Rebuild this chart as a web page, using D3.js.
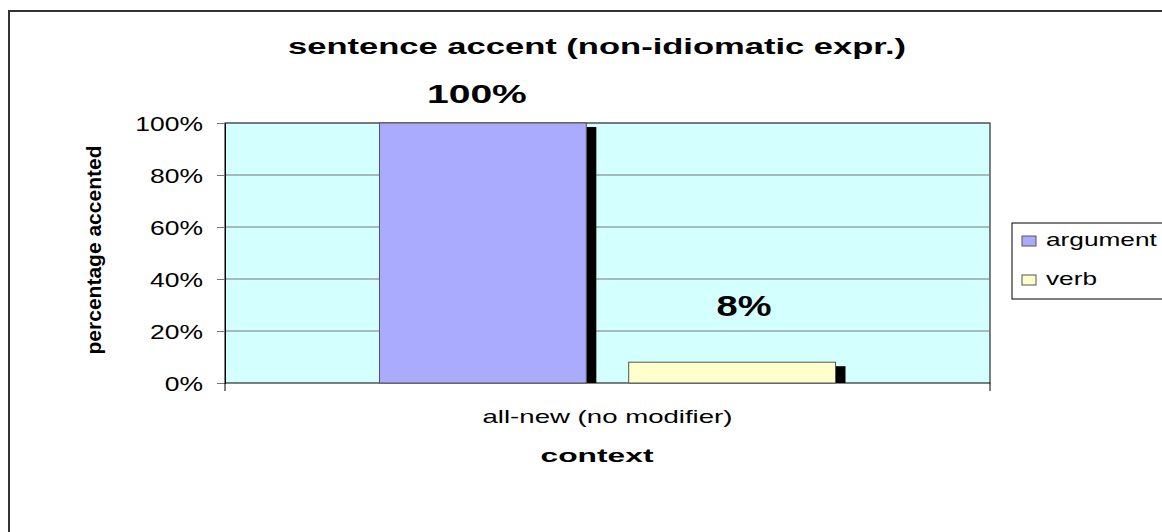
<!DOCTYPE html>
<html>
<head>
<meta charset="utf-8">
<script src="https://cdn.jsdelivr.net/npm/d3@7"></script>
<style>
body { margin: 0; background: #fff; }
text { font-family: Arial, "Liberation Sans", sans-serif; fill: #000; }
</style>
</head>
<body>
<svg id="chart" width="1162" height="532"></svg>
<script>
// data
var categories = ["all-new (no modifier)"];
var series = ["argument", "verb"];
var argument_vals = [1.00];
var verb_vals = [0.08];
var y_ticks = [0, 0.2, 0.4, 0.6, 0.8, 1.0];

// look
var COLORS = {argument: "#aaaaff", verb: "#ffffcc"};
var LABEL = {
	argument: {lift: 20, dx: -6, size: 25, w: 100},
	verb: {lift: 46, dx: 12, size: 29, w: 55}
};
var PLOT_L = 225, PLOT_R = 990, PLOT_T = 123, PLOT_B = 383;
var TICK_STRETCH = 1.26, LEGEND_STRETCH = 1.38;

var svg = d3.select("#chart");

// the picture has its horizontal text drawn wide, so force widths
function widen(sel, w)
{
	sel.attr("textLength", w).attr("lengthAdjust", "spacingAndGlyphs");
}
function widen_by(sel, k)
{
	sel.each(function(){
		var len = this.getComputedTextLength();
		d3.select(this).attr("textLength", len * k).attr("lengthAdjust", "spacingAndGlyphs");
	});
}

// outer frame
svg.append("rect")
	.attr("x", 9).attr("y", 11)
	.attr("width", 1170).attr("height", 540)
	.attr("fill", "none")
	.attr("stroke", "#333")
	.attr("stroke-width", 2);

svg.append("text")
	.attr("x", 597).attr("y", 54)
	.attr("text-anchor", "middle")
	.style("font-size", "22px").style("font-weight", "bold")
	.text("sentence accent (non-idiomatic expr.)")
	.call(widen, 618);

var y = d3.scaleLinear().domain([0, 1]).range([PLOT_B, PLOT_T]);
var x0 = d3.scaleBand().domain(categories).range([PLOT_L, PLOT_R]);
var x1 = d3.scaleBand().domain(series).range([0, x0.bandwidth()])
	.paddingInner(0.17).paddingOuter(0.62);

// plot background
svg.append("rect")
	.attr("x", PLOT_L).attr("y", PLOT_T)
	.attr("width", PLOT_R - PLOT_L).attr("height", PLOT_B - PLOT_T)
	.attr("fill", "#d4ffff")
	.attr("stroke", "#000").attr("stroke-width", 1);

// gridlines
svg.append("g").selectAll("line").data(y_ticks.slice(1)).enter().append("line")
	.attr("x1", PLOT_L).attr("x2", PLOT_R)
	.attr("y1", function(d){return y(d);}).attr("y2", function(d){return y(d);})
	.attr("stroke", "#777").attr("stroke-width", 1);

var rows = [];
for (var i = 0; i < categories.length; i++)
{
	rows.push({cat: categories[i], key: "argument", v: argument_vals[i]});
	rows.push({cat: categories[i], key: "verb", v: verb_vals[i]});
}

var bars = svg.append("g").selectAll("g").data(rows).enter().append("g")
	.attr("transform", function(d){return "translate(" + (x0(d.cat) + x1(d.key)) + ",0)";});

// shadow
bars.append("rect")
	.attr("x", x1.bandwidth())
	.attr("y", function(d){return y(d.v) + 4;})
	.attr("width", 10)
	.attr("height", function(d){return PLOT_B - y(d.v) - 4;})
	.attr("fill", "#000");

bars.append("rect")
	.attr("x", 0)
	.attr("y", function(d){return y(d.v);})
	.attr("width", x1.bandwidth())
	.attr("height", function(d){return PLOT_B - y(d.v);})
	.attr("fill", function(d){return COLORS[d.key];})
	.attr("stroke", "#555").attr("stroke-width", 1);

bars.append("text")
	.attr("x", function(d){return x1.bandwidth() / 2 + LABEL[d.key].dx;})
	.attr("y", function(d){return y(d.v) - LABEL[d.key].lift;})
	.attr("text-anchor", "middle")
	.style("font-size", function(d){return LABEL[d.key].size + "px";})
	.style("font-weight", "bold")
	.text(function(d){return d3.format(".0%")(d.v);})
	.each(function(d){d3.select(this).call(widen, LABEL[d.key].w);});

// axes
var yAxis = svg.append("g")
	.attr("transform", "translate(" + PLOT_L + ",0)")
	.call(d3.axisLeft(y).tickValues(y_ticks).tickFormat(d3.format(".0%")).tickSize(8).tickPadding(14));
yAxis.select(".domain").attr("stroke", "#000");
yAxis.selectAll(".tick line").attr("stroke", "#777");
yAxis.selectAll("text")
	.style("font-size", "21px")
	.style("font-family", "Arial, 'Liberation Sans', sans-serif")
	.attr("dy", "0.36em")
	.call(widen_by, TICK_STRETCH);

var xAxis = svg.append("g")
	.attr("transform", "translate(0," + PLOT_B + ")")
	.call(d3.axisBottom(x0).tickSize(0).tickPadding(25));
xAxis.select(".domain").remove();
xAxis.selectAll("text")
	.attr("dy", 15)
	.attr("x", 0)
	.style("font-size", "19px")
	.style("font-family", "Arial, 'Liberation Sans', sans-serif")
	.call(widen, 250);
// category edge ticks
svg.append("g").selectAll("line").data([PLOT_L, PLOT_R]).enter().append("line")
	.attr("x1", function(d){return d;}).attr("x2", function(d){return d;})
	.attr("y1", PLOT_B).attr("y2", PLOT_B + 8)
	.attr("stroke", "#000");

svg.append("text")
	.attr("x", 597).attr("y", 462)
	.attr("text-anchor", "middle")
	.style("font-size", "18px").style("font-weight", "bold")
	.text("context")
	.call(widen, 113);

svg.append("text")
	.attr("transform", "translate(101,250) rotate(-90)")
	.attr("text-anchor", "middle")
	.style("font-size", "21px").style("font-weight", "bold")
	.text("percentage accented");

// legend
var lg = svg.append("g").attr("transform", "translate(1012,223)");
lg.append("rect")
	.attr("width", 160).attr("height", 76)
	.attr("fill", "#fff").attr("stroke", "#000");
var items = lg.selectAll("g").data(series).enter().append("g")
	.attr("transform", function(d, i){return "translate(0," + (i * 39) + ")";});
items.append("rect")
	.attr("x", 10).attr("y", 13)
	.attr("width", 14).attr("height", 10)
	.attr("fill", function(d){return COLORS[d];})
	.attr("stroke", "#555");
items.append("text")
	.attr("x", 34).attr("y", 23)
	.style("font-size", "19px")
	.text(function(d){return d;})
	.call(widen_by, LEGEND_STRETCH);
</script>
</body>
</html>
